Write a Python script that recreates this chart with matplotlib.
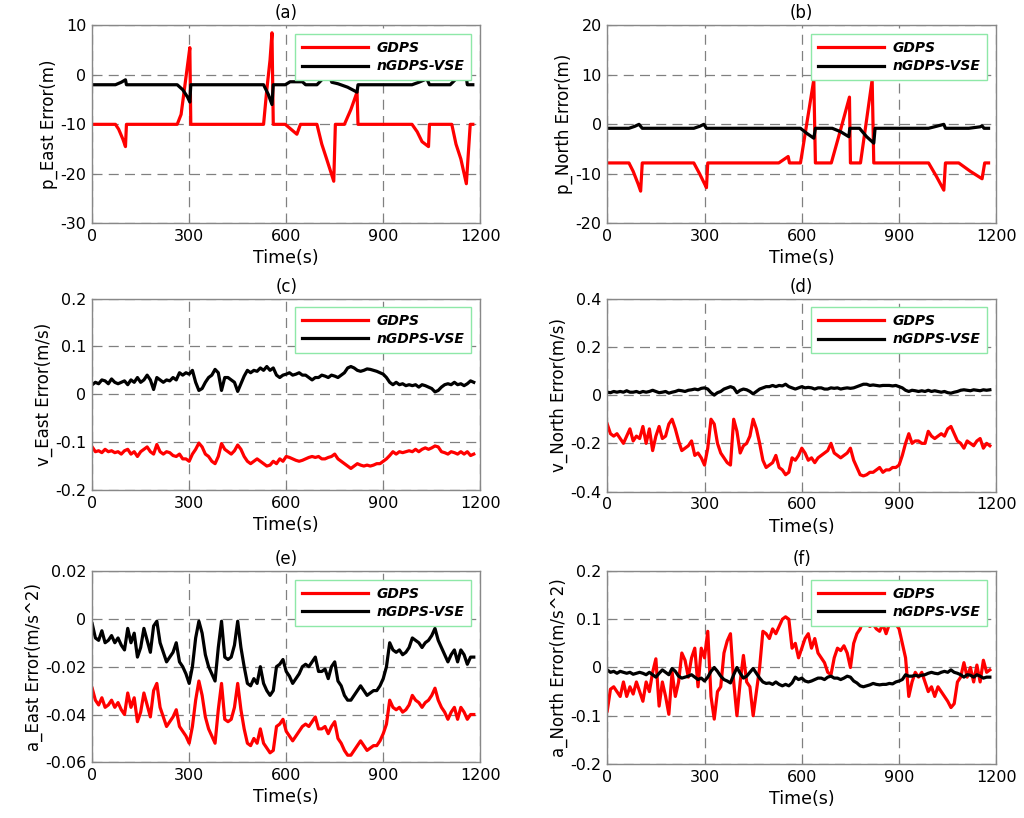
import numpy as np
import matplotlib
matplotlib.use("Agg")
import matplotlib.pyplot as plt
from matplotlib.ticker import FuncFormatter

plt.rcParams['font.family'] = ['DejaVu Sans']
plt.rcParams['axes.unicode_minus'] = False

# ---- panel (a): position east error, piecewise segments (time, value)
pe_t_gdps = [0, 72, 82, 95, 103, 106, 263, 275, 285, 295, 302, 305, 530, 540, 550, 556, 560,
             597, 615, 633, 644, 695, 710, 725, 747, 752, 780, 800, 819, 822, 989, 1005, 1020,
             1040, 1043, 1112, 1125, 1140, 1157, 1169, 1177]
pe_v_gdps = [-10, -10, -11, -13, -14.5, -10, -10, -8, -3, 2, 5.5, -10, -10, -3, 3, 8.5, -10,
             -10, -11, -12, -10, -10, -14, -17, -21.5, -10, -10, -7, -3.5, -10, -10, -11.5, -13.5,
             -14.5, -10, -10, -14, -17, -22, -10, -10]
pe_t_vse = [0, 72, 90, 103, 106, 263, 280, 295, 302, 305, 530, 545, 556, 560, 597, 612, 650,
            660, 695, 710, 721, 730, 741, 760, 790, 819, 822, 989, 1010, 1035, 1043, 1107,
            1130, 1153, 1160, 1177]
pe_v_vse = [-2, -2, -1.5, -1, -2, -2, -3, -4.5, -5.5, -2, -2, -4, -6, -2, -2, -1.4, -1.4,
            -2, -2, -1, 0, 0.5, -1.5, -1.8, -2.5, -3.5, -2, -2, -1.5, -0.8, -2, -2,
            -0.5, 1.5, -2, -2]

# ---- panel (b): position north error
pn_t_gdps = [0, 67, 80, 95, 103, 108, 267, 285, 300, 306, 310, 529, 558, 562, 596, 615, 637,
             642, 691, 720, 747, 750, 781, 800, 817, 822, 991, 1015, 1038, 1043, 1084, 1120,
             1156, 1164, 1176]
pn_v_gdps = [-7.8, -7.8, -9.5, -12, -13.5, -7.8, -7.8, -10, -12, -12.8, -7.8, -7.8, -6.5, -7.8,
             -7.8, 0, 9, -7.8, -7.8, -1, 5.5, -7.8, -7.8, 1, 9, -7.8, -7.8, -10.5, -13.3, -7.8,
             -7.8, -9.5, -11, -7.8, -7.8]
pn_t_vse = [0, 67, 85, 98, 108, 267, 285, 298, 306, 596, 615, 637, 642, 694, 720, 745, 748,
            778, 800, 822, 826, 991, 1015, 1038, 1043, 1115, 1150, 1156, 1162, 1176]
pn_v_vse = [-0.8, -0.8, -0.4, 0, -0.8, -0.8, -0.4, 0, -0.8, -0.8, -1.8, -2.8, -0.8, -0.8,
            -1.5, -2.5, -0.8, -0.8, -2.5, -3.8, -0.8, -0.8, -0.4, 0, -0.8, -0.8, -0.5, -0.3,
            -0.8, -0.8]

# ---- panels (c)-(f): sampled every 10 s
t_smp = np.arange(0, 1190, 10)

ve_vse = [.020, .025, .022, .030, .028, .022, .032, .025, .022, .025,
          .028, .020, .030, .025, .035, .025, .030, .040, .030, .010,
          .035, .030, .025, .030, .028, .035, .030, .045, .040, .045,
          .042, .050, .025, .008, .012, .025, .035, .040, .052, .045,
          .008, .035, .035, .030, .025, .006, .022, .038, .050, .045,
          .050, .048, .055, .050, .058, .050, .055, .040, .035, .040,
          .042, .045, .040, .042, .045, .040, .040, .035, .030, .035,
          .035, .040, .038, .035, .040, .038, .035, .040, .045, .055,
          .058, .055, .050, .048, .050, .053, .052, .050, .048, .045,
          .042, .035, .025, .020, .025, .020, .022, .018, .020, .018,
          .020, .015, .020, .018, .015, .012, .005, .008, .015, .020,
          .022, .020, .025, .020, .022, .018, .022, .028, .025]
ve_gdps = [-.110, -.120, -.118, -.122, -.115, -.120, -.118, -.122, -.120, -.125,
           -.118, -.115, -.125, -.120, -.130, -.120, -.115, -.110, -.120, -.125,
           -.105, -.120, -.125, -.120, -.122, -.128, -.130, -.125, -.135, -.135,
           -.140, -.125, -.115, -.102, -.110, -.125, -.130, -.140, -.145, -.130,
           -.103, -.115, -.120, -.125, -.118, -.106, -.115, -.130, -.140, -.145,
           -.140, -.135, -.140, -.145, -.150, -.148, -.140, -.145, -.135, -.140,
           -.130, -.132, -.135, -.138, -.140, -.138, -.135, -.132, -.130, -.132,
           -.130, -.135, -.135, -.132, -.130, -.125, -.135, -.140, -.145, -.150,
           -.155, -.150, -.145, -.148, -.150, -.148, -.150, -.148, -.145, -.145,
           -.140, -.135, -.128, -.120, -.125, -.120, -.122, -.120, -.118, -.120,
           -.115, -.120, -.115, -.112, -.115, -.112, -.108, -.110, -.120, -.122,
           -.125, -.120, -.122, -.125, -.120, -.125, -.120, -.128, -.125]

vn_vse = [.012, .010, .015, .012, .015, .012, .018, .012, .012, .015,
          .010, .015, .012, .015, .020, .015, .010, .012, .015, .008,
          .012, .015, .020, .018, .015, .020, .022, .025, .022, .028,
          .030, .025, .010, .000, .010, .015, .025, .030, .035, .030,
          .010, .020, .025, .022, .015, .005, .015, .025, .030, .035,
          .035, .040, .035, .040, .038, .045, .035, .030, .025, .030,
          .035, .030, .032, .030, .025, .030, .030, .025, .025, .030,
          .028, .030, .025, .028, .030, .028, .030, .035, .040, .045,
          .045, .040, .042, .040, .038, .040, .040, .040, .038, .040,
          .035, .030, .020, .015, .020, .018, .015, .018, .015, .020,
          .015, .018, .015, .012, .015, .010, .008, .012, .015, .020,
          .022, .020, .018, .022, .020, .018, .022, .020, .022]
vn_gdps = [-.12, -.16, -.17, -.16, -.18, -.20, -.17, -.14, -.19, -.17,
           -.18, -.13, -.20, -.14, -.23, -.17, -.13, -.18, -.17, -.12,
           -.10, -.14, -.19, -.23, -.22, -.21, -.19, -.25, -.24, -.26,
           -.29, -.22, -.10, -.12, -.20, -.24, -.26, -.28, -.29, -.10,
           -.15, -.24, -.21, -.20, -.17, -.10, -.14, -.20, -.27, -.30,
           -.29, -.28, -.25, -.30, -.31, -.33, -.32, -.26, -.27, -.25,
           -.22, -.24, -.27, -.26, -.28, -.26, -.25, -.24, -.23, -.20,
           -.24, -.25, -.26, -.25, -.24, -.22, -.27, -.30, -.33, -.335,
           -.33, -.32, -.32, -.31, -.30, -.32, -.31, -.31, -.30, -.30,
           -.29, -.25, -.20, -.16, -.20, -.19, -.19, -.20, -.20, -.15,
           -.17, -.18, -.17, -.16, -.17, -.14, -.13, -.16, -.19, -.20,
           -.22, -.19, -.20, -.21, -.19, -.18, -.22, -.20, -.21]

ae_vse = [-.002, -.008, -.009, -.005, -.010, -.009, -.007, -.010, -.008, -.011,
          -.013, -.004, -.010, -.006, -.016, -.012, -.004, -.009, -.014, -.003,
          -.001, -.010, -.014, -.018, -.016, -.014, -.010, -.018, -.020, -.023,
          -.027, -.020, -.008, -.001, -.006, -.015, -.020, -.023, -.026, -.012,
          -.001, -.016, -.017, -.016, -.011, -.001, -.012, -.020, -.027, -.028,
          -.025, -.027, -.020, -.027, -.030, -.032, -.030, -.020, -.019, -.017,
          -.022, -.024, -.027, -.025, -.023, -.020, -.019, -.020, -.018, -.016,
          -.022, -.022, -.021, -.025, -.020, -.018, -.026, -.028, -.032, -.034,
          -.034, -.032, -.030, -.028, -.030, -.032, -.031, -.030, -.030, -.028,
          -.025, -.020, -.010, -.013, -.014, -.013, -.015, -.014, -.012, -.008,
          -.009, -.010, -.012, -.010, -.009, -.007, -.004, -.009, -.012, -.015,
          -.018, -.015, -.013, -.018, -.013, -.015, -.019, -.016, -.016]
ae_gdps = [-.029, -.034, -.036, -.033, -.037, -.036, -.034, -.037, -.035, -.038,
           -.040, -.031, -.037, -.033, -.043, -.039, -.031, -.036, -.041, -.030,
           -.027, -.037, -.041, -.045, -.043, -.041, -.038, -.045, -.047, -.049,
           -.052, -.045, -.034, -.026, -.032, -.041, -.046, -.049, -.052, -.038,
           -.027, -.042, -.043, -.042, -.037, -.027, -.038, -.046, -.052, -.053,
           -.050, -.052, -.046, -.052, -.054, -.056, -.055, -.045, -.044, -.042,
           -.047, -.049, -.051, -.049, -.047, -.045, -.044, -.045, -.043, -.041,
           -.046, -.046, -.045, -.048, -.045, -.043, -.050, -.052, -.055, -.057,
           -.057, -.055, -.053, -.051, -.053, -.055, -.054, -.053, -.053, -.051,
           -.048, -.044, -.034, -.037, -.038, -.037, -.039, -.038, -.036, -.032,
           -.034, -.035, -.037, -.035, -.034, -.032, -.029, -.034, -.037, -.039,
           -.042, -.039, -.037, -.042, -.037, -.039, -.042, -.040, -.040]

an_vse = [-.005, -.010, -.008, -.012, -.008, -.010, -.012, -.010, -.014, -.012,
          -.010, -.012, -.015, -.010, -.015, -.020, -.012, -.005, -.010, -.015,
          -.002, -.008, -.018, -.022, -.020, -.018, -.015, -.020, -.025, -.022,
          -.028, -.020, -.008, .000, -.008, -.018, -.025, -.028, -.032, -.015,
          .000, -.012, -.022, -.018, -.010, -.002, -.012, -.022, -.030, -.033,
          -.032, -.035, -.030, -.035, -.038, -.035, -.038, -.032, -.020, -.025,
          -.022, -.028, -.030, -.028, -.025, -.022, -.022, -.025, -.020, -.018,
          -.022, -.022, -.025, -.022, -.018, -.020, -.028, -.032, -.038, -.040,
          -.038, -.036, -.033, -.035, -.036, -.035, -.035, -.033, -.034, -.030,
          -.028, -.025, -.015, -.018, -.018, -.016, -.018, -.016, -.015, -.012,
          -.010, -.012, -.013, -.010, -.008, -.010, -.005, -.010, -.012, -.015,
          -.020, -.015, -.016, -.020, -.015, -.018, -.022, -.020, -.020]
an_gdps = [-.090, -.045, -.040, -.050, -.060, -.030, -.060, -.040, -.055, -.030,
           -.050, -.070, -.030, -.050, -.010, .018, -.080, -.030, -.060, -.097,
           -.010, -.060, -.030, .030, .015, -.020, .020, .040, -.040, .040,
           .020, .075, -.060, -.107, -.050, -.040, .030, .055, .070, -.030,
           -.100, -.030, .025, -.030, -.040, -.100, -.050, .000, .075, .070,
           .060, .080, .070, .085, .100, .105, .100, .040, .050, .020,
           .040, .060, .070, .040, .060, .030, .020, .010, -.010, -.015,
           .020, .040, .035, .045, .030, .000, .050, .070, .080, .100,
           .090, .085, .090, .080, .075, .090, .070, .090, .100, .090,
           .080, .050, .020, -.060, -.030, -.010, -.020, -.010, -.030, -.050,
           -.040, -.060, -.040, -.050, -.060, -.070, -.083, -.075, -.030, -.020,
           .010, -.020, .000, -.030, .005, -.030, .015, -.010, -.005]

x_ticks = [0, 300, 600, 900, 1200]

panels = [
    ('(a)', 'p_East Error(m)', pe_t_gdps, pe_v_gdps, pe_t_vse, pe_v_vse, [-30, -20, -10, 0, 10]),
    ('(b)', 'p_North Error(m)', pn_t_gdps, pn_v_gdps, pn_t_vse, pn_v_vse, [-20, -10, 0, 10, 20]),
    ('(c)', 'v_East Error(m/s)', t_smp, ve_gdps, t_smp, ve_vse, [-0.2, -0.1, 0, 0.1, 0.2]),
    ('(d)', 'v_North Error(m/s)', t_smp, vn_gdps, t_smp, vn_vse, [-0.4, -0.2, 0, 0.2, 0.4]),
    ('(e)', 'a_East Error(m/s^2)', t_smp, ae_gdps, t_smp, ae_vse, [-0.06, -0.04, -0.02, 0, 0.02]),
    ('(f)', 'a_North Error(m/s^2)', t_smp, an_gdps, t_smp, an_vse, [-0.2, -0.1, 0, 0.1, 0.2]),
]

rects = [
    [0.090, 0.727, 0.379, 0.242], [0.593, 0.727, 0.380, 0.242],
    [0.090, 0.401, 0.379, 0.234], [0.593, 0.399, 0.380, 0.236],
    [0.090, 0.068, 0.379, 0.234], [0.593, 0.066, 0.380, 0.236],
]

fig = plt.figure(figsize=(10.24, 8.18), dpi=100)

for (title, ylab, tg, vg, tv, vv, yt), rect in zip(panels, rects):
    ax = fig.add_axes(rect)
    ax.plot(tg, vg, color='#ff0000', lw=2.3, label='GDPS')
    ax.plot(tv, vv, color='black', lw=2.3, label='nGDPS-VSE')
    ax.set_xlim(0, 1200)
    ax.set_ylim(yt[0], yt[-1])
    ax.set_xticks(x_ticks)
    ax.set_yticks(yt)
    ax.yaxis.set_major_formatter(FuncFormatter(lambda v, p: f'{round(v, 4):g}'))
    ax.grid(True, color='#808080', ls=(0, (8, 5)), lw=0.9)
    ax.tick_params(direction='in', length=3, color='#808080', labelsize=11.5, pad=4)
    for s in ax.spines.values():
        s.set_color('#888888')
        s.set_linewidth(1.0)
    ax.set_title(title, fontsize=12, pad=5)
    ax.set_ylabel(ylab, fontsize=12, labelpad=2)
    ax.set_xlabel('Time(s)', fontsize=12.5, labelpad=4)
    leg = ax.legend(loc='upper right', bbox_to_anchor=(0.977, 0.955), borderaxespad=0,
                    prop={'weight': 'bold', 'style': 'italic', 'size': 10},
                    handlelength=4.8, handletextpad=0.6, borderpad=0.5,
                    labelspacing=0.3, fancybox=False, framealpha=1)
    leg.get_frame().set_edgecolor('#8ee8a8')
    leg.get_frame().set_linewidth(1.0)

fig.savefig('out.png', dpi=100)
